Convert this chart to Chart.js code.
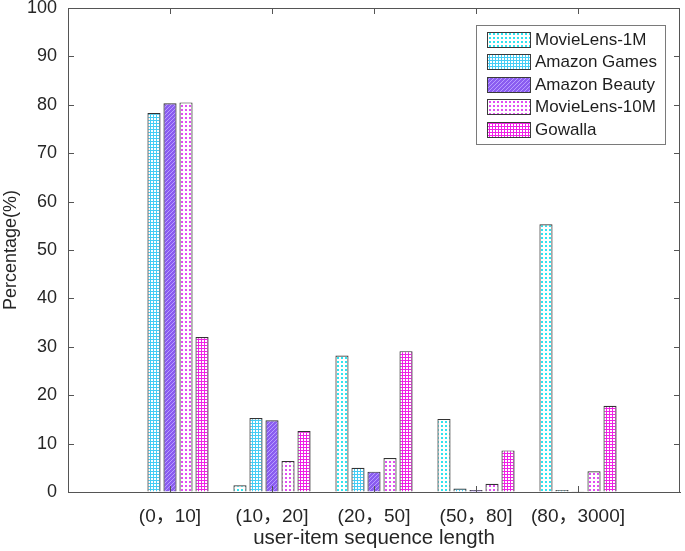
<!DOCTYPE html>
<html><head><meta charset="utf-8">
<script src="https://cdn.jsdelivr.net/npm/chart.js@4/dist/chart.umd.min.js"></script>
<style>html,body{margin:0;padding:0;background:#fff}#wrap{width:685px;height:551px;position:relative}</style>
</head><body><div id="wrap"><canvas id="c"></canvas></div>
<script>
// ---- data ----
const categories = ['(0，10]', '(10，20]', '(20，50]', '(50，80]', '(80，3000]'];
const seriesNames = ['MovieLens-1M', 'Amazon Games', 'Amazon Beauty', 'MovieLens-10M', 'Gowalla'];
const movieLens1M  = [0,    1.4, 28.2, 15.1, 55.3];
const amazonGames  = [78.3, 15.3, 5.0,  0.7,  0.4];
const amazonBeauty = [80.3, 14.8, 4.2,  0.4,  0.15];
const movieLens10M = [80.5, 6.4,  7.0,  1.7,  4.3];
const gowalla      = [32.0, 12.6, 29.1, 8.6,  17.8];
const yTickValues  = [0, 10, 20, 30, 40, 50, 60, 70, 80, 90, 100];
const seriesValues = [movieLens1M, amazonGames, amazonBeauty, movieLens10M, gowalla];

// ---- patterns ----
function makePattern(w, h, draw) {
  const c = document.createElement('canvas'); c.width = w; c.height = h;
  const g = c.getContext('2d'); draw(g, w, h);
  return g.createPattern(c, 'repeat');
}
const patterns = [
  makePattern(4, 4, (g) => { g.fillStyle = '#fff'; g.fillRect(0,0,4,4); g.fillStyle = '#2fe4f0'; g.fillRect(1,1,2,2); }),
  makePattern(3, 3, (g) => { g.fillStyle = '#fff'; g.fillRect(0,0,3,3); g.fillStyle = '#45cdf5'; g.fillRect(0,0,3,1); g.fillRect(0,0,1,3); }),
  makePattern(4, 4, (g) => { g.fillStyle = '#8a5cf0'; g.fillRect(0,0,4,4); g.fillStyle = '#b89dff'; for (let i=0;i<4;i++){ g.fillRect(i,3-i,1,1); } }),
  makePattern(4, 4, (g) => { g.fillStyle = '#fff'; g.fillRect(0,0,4,4); g.fillStyle = '#e04ef2'; g.fillRect(1,1,2,2); }),
  makePattern(3, 3, (g) => { g.fillStyle = '#fff'; g.fillRect(0,0,3,3); g.fillStyle = '#f020e6'; g.fillRect(0,0,3,1); g.fillRect(0,0,1,3); })
];

const FONT = '"Liberation Sans", Arial, "Noto Sans CJK SC", sans-serif';
const AXIS = '#555555';

// ---- plugins: box, inward ticks, legend ----
const frameTicks = {
  id: 'frameTicks',
  afterDraw(chart) {
    const ctx = chart.ctx, ca = chart.chartArea;
    const xs = chart.scales.x, ys = chart.scales.y;
    ctx.save();
    ctx.strokeStyle = AXIS; ctx.lineWidth = 1;
    ctx.beginPath();
    ctx.moveTo(ca.left, ca.top + 0.5); ctx.lineTo(ca.right, ca.top + 0.5);
    ctx.moveTo(ca.right - 0.5, ca.top); ctx.lineTo(ca.right - 0.5, ca.bottom);
    const tl = 6;
    ys.ticks.forEach(t => {
      const y = Math.round(ys.getPixelForValue(t.value)) + 0.5;
      ctx.moveTo(ca.left, y); ctx.lineTo(ca.left + tl, y);
      ctx.moveTo(ca.right, y); ctx.lineTo(ca.right - tl, y);
    });
    xs.ticks.forEach(t => {
      const x = Math.round(xs.getPixelForValue(t.value)) + 0.5;
      ctx.moveTo(x, ca.bottom); ctx.lineTo(x, ca.bottom - tl);
      ctx.moveTo(x, ca.top); ctx.lineTo(x, ca.top + tl);
    });
    ctx.stroke();
    ctx.restore();
  }
};

const boxLegend = {
  id: 'boxLegend',
  afterDraw(chart) {
    const ctx = chart.ctx, ca = chart.chartArea;
    const items = chart.data.datasets;
    ctx.save();
    ctx.font = '17px ' + FONT;
    const maxW = Math.max(...items.map(d => ctx.measureText(d.label).width));
    const padL = 11, sw = 43, sh = 15, gap = 5, padR = 8, rowH = 22.5, padT = 3;
    const w = padL + sw + gap + maxW + padR;
    const h = padT * 2 + rowH * items.length;
    const x0 = Math.round(ca.right - 15 - w), y0 = ca.top + 17;
    ctx.fillStyle = '#fff'; ctx.fillRect(x0, y0, w, h);
    ctx.strokeStyle = '#7a7a7a'; ctx.lineWidth = 1;
    ctx.strokeRect(x0 + 0.5, y0 + 0.5, Math.round(w), Math.round(h));
    items.forEach((d, i) => {
      const cy = y0 + padT + rowH * (i + 0.5);
      const sx = x0 + padL, sy = Math.round(cy - sh / 2);
      ctx.fillStyle = d.backgroundColor; ctx.fillRect(sx, sy, sw, sh);
      ctx.strokeStyle = '#3a3a3a'; ctx.strokeRect(sx + 0.5, sy + 0.5, sw, sh);
      ctx.fillStyle = '#1e1e1e'; ctx.textBaseline = 'middle'; ctx.textAlign = 'left';
      ctx.fillText(d.label, sx + sw + gap, cy + 1);
    });
    ctx.restore();
  }
};

const datasets = seriesNames.map((name, k) => ({
  label: name,
  data: seriesValues[k].map((v, i) => ({ x: i + 1, y: v })),
  backgroundColor: patterns[k],
  borderColor: '#333333',
  borderWidth: 1.2,
  borderSkipped: 'bottom',
  categoryPercentage: 0.785,
  barPercentage: 0.82
}));

new Chart(document.getElementById('c'), {
  type: 'bar',
  data: { datasets },
  options: {
    responsive: true,
    maintainAspectRatio: false,
    animation: false,
    layout: { padding: { top: 8, right: 5, left: 0, bottom: 0 } },
    plugins: { legend: { display: false }, tooltip: { enabled: false } },
    scales: {
      x: {
        type: 'linear', min: 0, max: 6, offset: false,
        afterBuildTicks: s => { s.ticks = categories.map((_, i) => ({ value: i + 1 })); },
        afterFit: s => { s.height = 59; s.paddingLeft = 0; s.paddingRight = 0; },
        ticks: { callback: v => categories[v - 1], font: { family: FONT, size: 19 }, color: '#262626', padding: 13, maxRotation: 0, autoSkip: false },
        grid: { display: true, drawOnChartArea: false, drawTicks: false, offset: false },
        border: { display: true, color: AXIS, width: 1 },
        title: { display: true, text: 'user-item sequence length', font: { family: FONT, size: 20.5 }, color: '#262626', padding: { top: 0, bottom: 0 } }
      },
      y: {
        min: 0, max: 100,
        afterBuildTicks: s => { s.ticks = yTickValues.map(v => ({ value: v })); },
        afterFit: s => { s.width = 68; s.paddingTop = 0; s.paddingBottom = 0; },
        ticks: { font: { family: FONT, size: 18 }, color: '#262626', padding: 11 },
        grid: { display: true, drawOnChartArea: false, drawTicks: false },
        border: { display: true, color: AXIS, width: 1 },
        title: { display: true, text: 'Percentage(%)', font: { family: FONT, size: 18 }, color: '#262626', padding: { top: 0, bottom: 0 } }
      }
    }
  },
  plugins: [frameTicks, boxLegend]
});
</script></body></html>
